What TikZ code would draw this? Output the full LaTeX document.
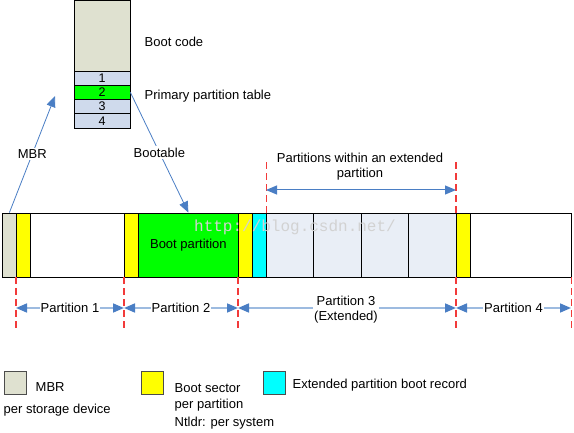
\documentclass[tikz,border=0pt]{standalone}
\usepackage{fontspec}
\setmainfont{Liberation Sans}
\newfontfamily\wmfont{Liberation Mono}
\usetikzlibrary{arrows.meta}
\definecolor{mbrgray}{HTML}{DFE1D0}
\definecolor{rowblue}{HTML}{CFDAEC}
\definecolor{extblue}{HTML}{E9EEF6}
\definecolor{arrowblue}{HTML}{4A7EC4}
\definecolor{dimline}{HTML}{9DBBE0}
\definecolor{guidered}{HTML}{F23A3A}
\definecolor{ebrcyan}{HTML}{00FFFF}
\definecolor{bsyellow}{HTML}{FFFF00}
\definecolor{bootgreen}{HTML}{00FF00}
\tikzset{cell/.style={draw, rectangle, inner sep=0pt, minimum height=64pt, anchor=west, line width=0.8pt}}
\tikzset{tabrow/.style={draw, rectangle, inner sep=0pt, minimum width=56pt, minimum height=14.25pt, fill=rowblue, line width=0.8pt, font=\fontsize{12.5}{14}\selectfont}}
\tikzset{legbox/.style={draw=black!70, rectangle, inner sep=0pt, minimum width=22pt, minimum height=23pt, line width=0.8pt}}
\tikzset{guide/.style={guidered, line width=1.3pt, dash pattern=on 7pt off 4pt}}
\tikzset{dim/.style={{Triangle[length=11pt,width=9pt,color=arrowblue]}-{Triangle[length=11pt,width=9pt,color=arrowblue]}, dimline, line width=1.6pt}}
\tikzset{ptr/.style={-{Triangle[length=11pt,width=9pt]}, arrowblue, line width=0.8pt}}
\tikzset{lbl/.style={font=\fontsize{13}{15}\selectfont, text=black, inner sep=1.5pt}}
\tikzset{dimlbl/.style={lbl, fill=white, align=center, inner sep=1pt}}

\begin{document}
\begin{tikzpicture}[x=1pt, y=-1pt]
    \useasboundingbox (0,0) rectangle (574,433);

    % MBR sector layout
    \node[draw, rectangle, inner sep=0pt, minimum width=56pt, minimum height=71pt, fill=mbrgray, line width=0.8pt] (bootcode) at (102,35.5) {};
    \node[tabrow] (row1) at (102,78.1) {1};
    \node[tabrow, fill=bootgreen] (row2) at (102,92.4) {2};
    \node[tabrow] (row3) at (102,106.6) {3};
    \node[tabrow] (row4) at (102,120.9) {4};
    \node[lbl, anchor=west] (bootcodetxt) at (143,42) {Boot code};
    \node[lbl, anchor=west] (tabletxt) at (143,96) {Primary partition table};

    % the disk
    \node[cell, minimum width=14pt, fill=mbrgray] (mbr) at (2,245) {};
    \node[cell, minimum width=14pt, fill=bsyellow] (bs1) at (16,245) {};
    \node[cell, minimum width=94pt, fill=white] (p1) at (30,245) {};
    \node[cell, minimum width=14pt, fill=bsyellow] (bs2) at (124,245) {};
    \node[cell, minimum width=100pt, fill=bootgreen, font=\fontsize{13}{15}\selectfont] (boot) at (138,245) {Boot partition};
    \node[cell, minimum width=14pt, fill=bsyellow] (bs3) at (238,245) {};
    \node[cell, minimum width=14pt, fill=ebrcyan] (ebr) at (252,245) {};
    \node[cell, minimum width=47pt, fill=extblue] (e1) at (266,245) {};
    \node[cell, minimum width=48pt, fill=extblue] (e2) at (313,245) {};
    \node[cell, minimum width=47pt, fill=extblue] (e3) at (361,245) {};
    \node[cell, minimum width=48pt, fill=extblue] (e4) at (408,245) {};
    \node[cell, minimum width=14pt, fill=bsyellow] (bs4) at (456,245) {};
    \node[cell, minimum width=101pt, fill=white] (p4) at (470,245) {};

    \node[text=gray!35, font=\wmfont\fontsize{16}{16}\selectfont] (wm) at (295,227) {http://blog.csdn.net/};

    % pointers
    \coordinate (mbrtip) at (55,96);
    \draw[ptr] (mbr.north) -- node[lbl, fill=white] {MBR} (mbrtip);
    \draw[ptr] (row2.east) -- node[lbl, fill=white] {Bootable} (boot.north);

    % guides
    \draw[guide] (ebr.north east) -- ++(0,-51);
    \draw[guide] (bs4.north west) -- ++(0,-51);
    \draw[guide] (bs1.south west) -- ++(0,53);
    \draw[guide] (bs2.south west) -- ++(0,53);
    \draw[guide] (bs3.south west) -- ++(0,53);
    \draw[guide] (bs4.south west) -- ++(0,53);
    \draw[guide] (p4.south east) -- ++(0,53);

    % extents
    \coordinate (x1) at (266,190);
    \coordinate (x2) at (456,190);
    \draw[dim, arrowblue, line width=1pt] (x1) -- (x2);
    \node[lbl, align=center] (exttxt) at (360,167) {Partitions within an extended\\partition};

    \coordinate (d1) at (16,308);
    \coordinate (d2) at (124,308);
    \coordinate (d3) at (238,308);
    \coordinate (d4) at (456,308);
    \coordinate (d5) at (571,308);
    \draw[dim] (d1) -- node[dimlbl] {Partition 1} (d2);
    \draw[dim] (d2) -- node[dimlbl] {Partition 2} (d3);
    \draw[dim] (d3) -- node[dimlbl, xshift=-1pt, yshift=-2pt] {Partition 3\\(Extended)} (d4);
    \draw[dim] (d4) -- node[dimlbl] {Partition 4} (d5);

    % legend
    \node[legbox, fill=mbrgray] (legmbr) at (15.5,382.5) {};
    \node[lbl, anchor=west] (legmbrtxt) at (34,387) {MBR};
    \node[lbl, anchor=west] (legmbrsub) at (2,410) {per storage device};
    \node[legbox, fill=bsyellow] (legbs) at (152,382.5) {};
    \node[lbl, anchor=west] (legbstxt) at (173,388) {Boot sector};
    \node[lbl, anchor=west] (legbssub) at (173,405) {per partition};
    \node[lbl, anchor=west] (legbsntl) at (173,423) {Ntldr: per system};
    \node[legbox, fill=ebrcyan] (legebr) at (274,382.5) {};
    \node[lbl, anchor=west] (legebrtxt) at (291,385) {Extended partition boot record};
\end{tikzpicture}
\end{document}
